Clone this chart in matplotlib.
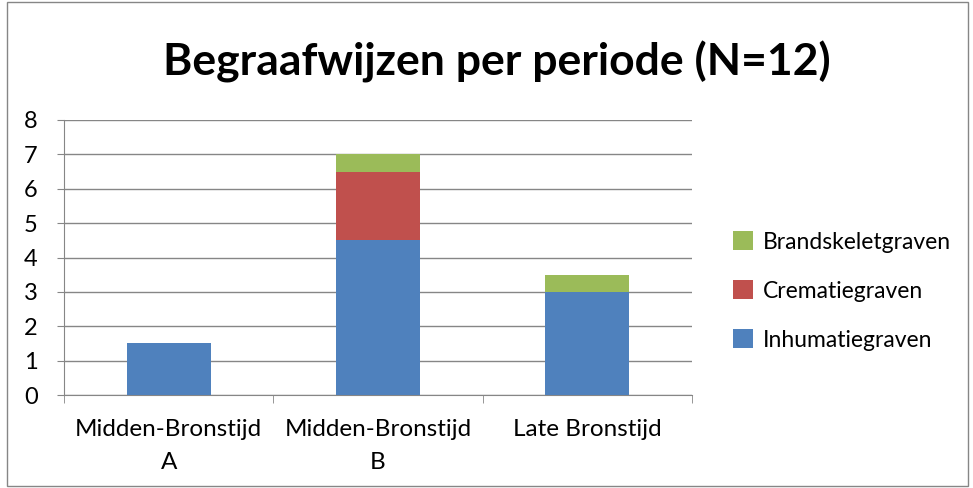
import numpy as np
import matplotlib.pyplot as plt
from matplotlib.patches import Rectangle

periods = ["Midden-Bronstijd\nA", "Midden-Bronstijd\nB", "Late Bronstijd"]
inhumatie = [1.5, 4.5, 3.0]
crematie = [0.0, 2.0, 0.0]
brandskelet = [0.0, 0.5, 0.5]

plt.rcParams['font.family'] = ['Lato', 'DejaVu Sans']

fig = plt.figure(figsize=(9.73, 4.88), dpi=100)
ax = fig.add_axes([64 / 973, 1 - 395 / 488, 628 / 973, 275 / 488])

x = np.arange(len(periods))
w = 0.4
b1 = ax.bar(x, inhumatie, w, color="#4F81BD", label="Inhumatiegraven", zorder=3)
b2 = ax.bar(x, crematie, w, bottom=inhumatie, color="#C0504D", label="Crematiegraven", zorder=3)
bottom2 = np.array(inhumatie) + np.array(crematie)
b3 = ax.bar(x, brandskelet, w, bottom=bottom2, color="#9BBB59", label="Brandskeletgraven", zorder=3)

ax.set_xlim(-0.5, 2.5)
ax.set_ylim(0, 8)
ax.set_yticks(range(0, 9))
ax.yaxis.grid(True, color="#868686", linewidth=1, zorder=0)
ax.set_xticks(x)
ax.set_xticklabels(periods, fontsize=17.5, linespacing=1.75)
ax.tick_params(axis='x', length=0, pad=17)
ax.set_xticks([-0.5, 0.5, 1.5, 2.5], minor=True)
ax.tick_params(axis='x', which='minor', length=6, color="#868686", direction='out')
ax.tick_params(axis='y', labelsize=17, length=5, color="#868686", pad=14)
for s in ['top', 'right']:
    ax.spines[s].set_visible(False)
for s in ['left', 'bottom']:
    ax.spines[s].set_color("#868686")

fig.text(0.511, 1 - 62 / 488, "Begraafwijzen per periode (N=12)", ha='center', va='center',
         fontsize=32, fontweight='bold')

handles = [b3, b2, b1]
fig.legend(handles, [h.get_label() for h in handles], loc='center left',
           bbox_to_anchor=(712 / 973, 1 - 291 / 488), frameon=False, fontsize=16.5,
           handlelength=0.9, handleheight=0.9, labelspacing=1.2, handletextpad=0.4)

fig.patches.append(Rectangle((7 / 973, 0.005), 961 / 973, 0.99, transform=fig.transFigure,
                             fill=False, edgecolor="#868686", linewidth=1))

fig.savefig("out.png", dpi=100)
